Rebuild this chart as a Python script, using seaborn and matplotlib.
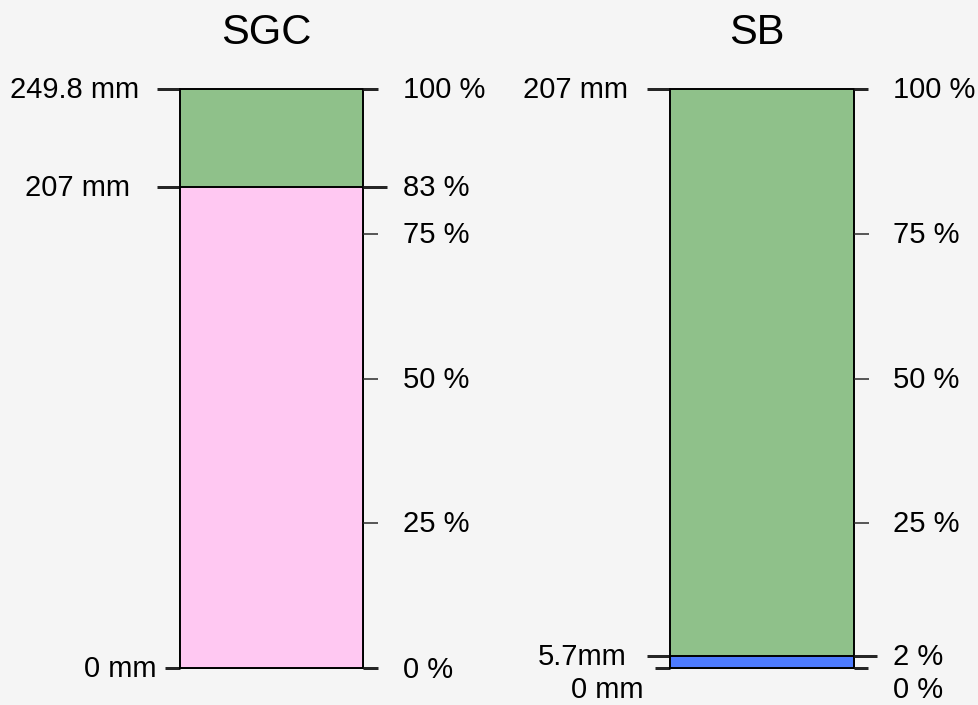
import matplotlib
matplotlib.use("Agg")
import matplotlib.pyplot as plt
import seaborn as sns
import pandas as pd

sns.set_theme(style="white")
plt.rcParams['font.family'] = ['Liberation Sans', 'DejaVu Sans']

# ---- data ----
bar_names = ["SGC", "SB"]
# segments from bottom to top (mm), their cumulative percentage tops
sgc_mm = [207, 249.8]
sgc_pct = [83, 100]
sgc_colors = ["#FFC8F2", "#8FC18A"]
sb_mm = [5.7, 207]
sb_pct = [2, 100]
sb_colors = ["#4D7BFE", "#8FC18A"]

sgc_left_labels = ["0 mm", "207 mm", "249.8 mm"]
sgc_left_pos = [0, 83, 100]
sgc_right_pos = [0, 25, 50, 75, 83, 100]
sgc_right_labels = ["0 %", "25 %", "50 %", "75 %", "83 %", "100 %"]

sb_left_labels = ["0 mm", "5.7mm", "207 mm"]
sb_left_pos = [0, 2, 100]
sb_right_pos = [0, 2, 25, 50, 75, 100]
sb_right_labels = ["0 %", "2 %", "25 %", "50 %", "75 %", "100 %"]

# ---- layout / style ----
BG = "#F5F5F5"
W, H = 979, 705
fig = plt.figure(figsize=(W / 100, H / 100), dpi=100, facecolor=BG)

def px_to_pt(p):
    return p * 0.72

def make_panel(left_px, width_px, name, pct_tops, colors,
               lpos, llabels, lstyle, rpos, rlabels, rstyle):
    top_px, bottom_px = 89, 668
    ax = fig.add_axes([left_px / W, (H - bottom_px) / H, width_px / W, (bottom_px - top_px) / H])
    ax.set_facecolor("none")
    # draw from top segment down so lower segments overlay
    for top, col in reversed(list(zip(pct_tops, colors))):
        df = pd.DataFrame({"bar": [name], "pct": [top]})
        sns.barplot(data=df, x="bar", y="pct", color=col, saturation=1,
                    edgecolor="black", linewidth=1.4, width=1.0, ax=ax)
    for p in ax.patches:
        p.set_clip_on(False)
    ax.set_xlim(-0.5, 0.5)
    ax.set_ylim(0, 100)
    ax.set_xlabel("")
    ax.set_ylabel("")
    ax.set_xticks([])
    for s in ax.spines.values():
        s.set_visible(False)

    # left ticks
    ax.set_yticks(lpos)
    ax.set_yticklabels([""] * len(lpos))
    ax.tick_params(axis="y", which="major", left=True, right=False, direction="out")
    for tick, (ln, lw, dx, dy) in zip(ax.yaxis.get_major_ticks(), lstyle):
        tick.tick1line.set_markersize(px_to_pt(ln))
        tick.tick1line.set_markeredgewidth(px_to_pt(lw))
        tick.tick1line.set_color("black")
    for p, lab, (ln, lw, dx, dy) in zip(lpos, llabels, lstyle):
        ax.annotate(lab, xy=(0, p), xycoords=("axes fraction", "data"),
                    xytext=(dx, dy), textcoords="offset pixels",
                    ha="right", va="center_baseline", fontsize=21, color="black")

    # right ticks
    ax2 = ax.twinx()
    ax2.set_ylim(0, 100)
    for s in ax2.spines.values():
        s.set_visible(False)
    ax2.set_yticks(rpos)
    ax2.set_yticklabels([""] * len(rpos))
    ax2.tick_params(axis="y", which="major", left=False, right=True, direction="out")
    for tick, (ln, lw, dx, dy) in zip(ax2.yaxis.get_major_ticks(), rstyle):
        tick.tick2line.set_markersize(px_to_pt(ln))
        tick.tick2line.set_markeredgewidth(px_to_pt(lw))
        tick.tick2line.set_color("black")
    for p, lab, (ln, lw, dx, dy) in zip(rpos, rlabels, rstyle):
        ax2.annotate(lab, xy=(1, p), xycoords=("axes fraction", "data"),
                     xytext=(dx, dy), textcoords="offset pixels",
                     ha="left", va="center_baseline", fontsize=21, color="black")

    ax.annotate(name, xy=(0.5, 1), xycoords="axes fraction",
                xytext=(-5, 60), textcoords="offset pixels",
                ha="center", va="center_baseline", fontsize=30, color="black")
    return ax

# (tick length px, tick width px, label dx px, label dy px)
sgc_lstyle = [(15, 3, -23, 2), (23, 3, -50, 2), (23, 3, -41, 2)]
sgc_rstyle = [(15, 3, 40, 1), (15, 1.5, 40, 2), (15, 1.5, 40, 2),
              (15, 1.5, 40, 2), (24, 3, 40, 2), (15, 3, 40, 2)]
sb_lstyle = [(15, 3, -26, -19), (23, 3, -43, 2), (23, 3, -42, 2)]
sb_rstyle = [(14, 3, 39, -19), (23, 3, 39, 2), (15, 1.5, 39, 2),
             (15, 1.5, 39, 2), (15, 1.5, 39, 2), (14, 3, 39, 2)]

make_panel(180, 183, "SGC", sgc_pct, sgc_colors,
           sgc_left_pos, sgc_left_labels, sgc_lstyle,
           sgc_right_pos, sgc_right_labels, sgc_rstyle)
make_panel(670, 184, "SB", sb_pct, sb_colors,
           sb_left_pos, sb_left_labels, sb_lstyle,
           sb_right_pos, sb_right_labels, sb_rstyle)

fig.savefig("out.png", dpi=100, facecolor=BG)
